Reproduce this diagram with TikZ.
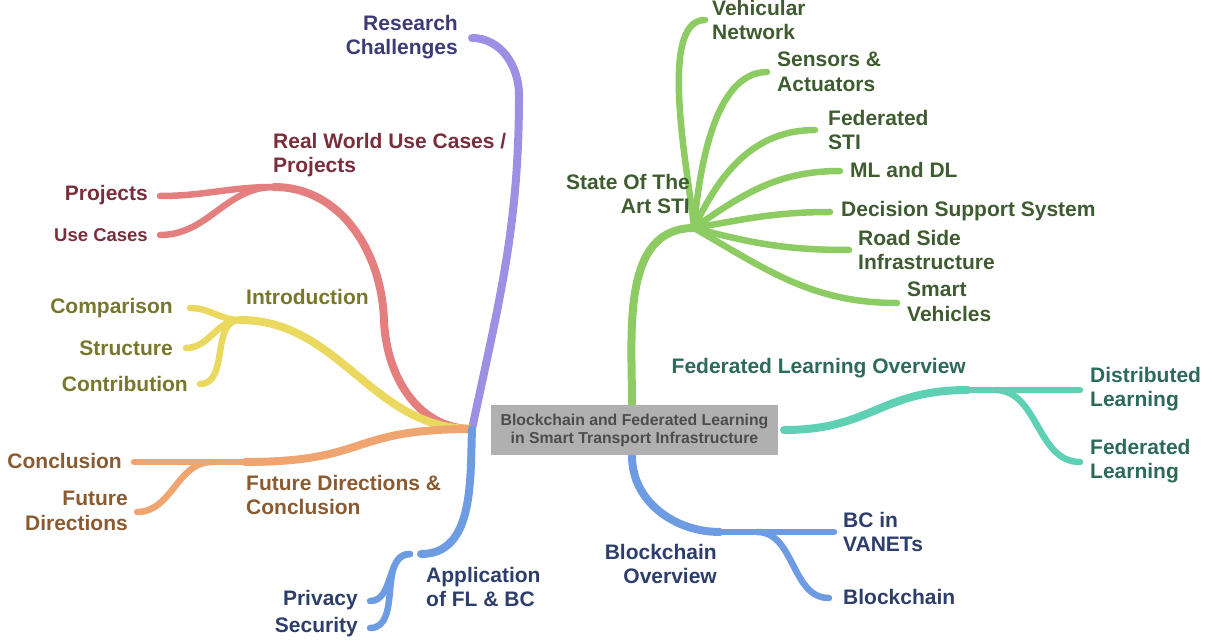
\documentclass[tikz,border=0pt]{standalone}
\usepackage{fontspec}
\setmainfont{Liberation Sans}
\usepackage{xcolor}
\usepackage{tikz}
\usetikzlibrary{positioning,calc}

\definecolor{rcLine}{HTML}{9D90E4}
\definecolor{rcText}{HTML}{3D3A78}
\definecolor{rwLine}{HTML}{E57F7F}
\definecolor{rwText}{HTML}{7A2E3C}
\definecolor{inLine}{HTML}{EAD95E}
\definecolor{inText}{HTML}{77772E}
\definecolor{fdLine}{HTML}{F0A570}
\definecolor{fdText}{HTML}{8A5A30}
\definecolor{apLine}{HTML}{6E9CE3}
\definecolor{apText}{HTML}{2D3E6C}
\definecolor{stLine}{HTML}{8DCB63}
\definecolor{stText}{HTML}{3F5C30}
\definecolor{flLine}{HTML}{5ED1B4}
\definecolor{flText}{HTML}{2E6A5A}
\definecolor{rootFill}{HTML}{B0B0B0}

\begin{document}
\begin{tikzpicture}[x=1pt, y=1pt,
    br/.style={line width=8pt, line cap=round},
    leaf/.style={line width=6.5pt, line cap=round},
    txt/.style={font=\bfseries\fontsize{21}{24.5}\selectfont, inner sep=0pt},
    lt/.style={txt, anchor=west, align=left},
    rt/.style={txt, anchor=east, align=right},
    rootbox/.style={fill=rootFill, minimum width=287pt, minimum height=50pt, inner sep=0pt,
        align=center, text=black!70, font=\bfseries\fontsize{15.8}{18}\selectfont}]
    \useasboundingbox (0,0) rectangle (1210,640);

    % Hubs round the central box
    \coordinate (hubW) at (472,211);
    \coordinate (hubN) at (632,236);
    \coordinate (hubS) at (632,184);
    \coordinate (hubE) at (784,210);

    % Research Challenges
    \coordinate (rcb) at (519,545);
    \coordinate (rc) at (472,602);
    \draw[br, rcLine] (hubW) to[out=78, in=-90] (rcb) to[out=90, in=0] (rc);
    \node[rt, text=rcText] (rcT) at (458,603) {Research\\Challenges};

    % Real World Use Cases / Projects
    \coordinate (rwa) at (384,320);
    \coordinate (rw) at (274,453);
    \coordinate (pj) at (160,444);
    \coordinate (uc) at (160,405);
    \draw[br, rwLine] (hubW) to[out=180, in=-88] (rwa) to[out=92, in=0] (rw);
    \draw[leaf, rwLine] (rw) to[out=180, in=0] (pj);
    \draw[leaf, rwLine] (rw) to[out=180, in=0] (uc);
    \node[lt, text=rwText] (rwT) at (273,485) {Real World Use Cases /\\Projects};
    \node[rt, text=rwText] (pjT) at (148,445) {Projects};
    \node[rt, text=rwText, font=\bfseries\fontsize{18.5}{22}\selectfont] (ucT) at (148,405) {Use Cases};

    % Introduction
    \coordinate (in) at (240,320);
    \coordinate (cmp) at (190,332);
    \coordinate (str) at (186,292);
    \coordinate (ctb) at (200,256);
    \draw[br, inLine] (hubW) to[out=180, in=0] (in);
    \foreach \c in {cmp, str, ctb}
        \draw[leaf, inLine] (in) to[out=180, in=0] (\c);
    \node[lt, text=inText] (inT) at (246,343) {Introduction};
    \node[rt, text=inText] (cmpT) at (173,332) {Comparison};
    \node[rt, text=inText] (strT) at (173,292) {Structure};
    \node[rt, text=inText] (ctbT) at (188,256) {Contribution};

    % Future Directions & Conclusion
    \coordinate (fd) at (245,178);
    \coordinate (fdf) at (212,178);
    \coordinate (ccl) at (134,178);
    \coordinate (fdir) at (137,128);
    \draw[br, fdLine] (hubW) to[out=180, in=0, looseness=1.4] (fd);
    \draw[leaf, fdLine] (fd) -- (ccl);
    \draw[leaf, fdLine] (fdf) to[out=180, in=0] (fdir);
    \node[lt, text=fdText] (fdT) at (246,145) {Future Directions \&\\Conclusion};
    \node[rt, text=fdText] (cclT) at (122,179) {Conclusion};
    \node[rt, text=fdText] (fdirT) at (128,129) {Future\\Directions};

    % Application of FL & BC
    \coordinate (ap) at (421,86);
    \coordinate (apf) at (410,86);
    \coordinate (prv) at (370,39);
    \coordinate (sec) at (370,12);
    \draw[br, apLine] (hubW) to[out=-92, in=0] (ap);
    \draw[leaf, apLine] (apf) to[out=180, in=0] (prv);
    \draw[leaf, apLine] (apf) to[out=180, in=0] (sec);
    \node[lt, text=apText] (apT) at (426,53) {Application\\of FL \& BC};
    \node[rt, text=apText] (prvT) at (358,40) {Privacy};
    \node[rt, text=apText] (secT) at (358,13) {Security};

    % State Of The Art STI
    \coordinate (st) at (694,412);
    \draw[br, stLine] (hubN) to[out=90, in=180] (st);
    \draw[leaf, stLine] (st) to[out=95, in=180, looseness=0.6] (705,620) coordinate (veh);
    \draw[leaf, stLine] (st) to[out=85, in=180, looseness=0.8] (767,568) coordinate (sen);
    \draw[leaf, stLine] (st) to[out=65, in=180] (815,510) coordinate (fed);
    \draw[leaf, stLine] (st) to[out=35, in=180] (840,469) coordinate (mld);
    \draw[leaf, stLine] (st) to[out=10, in=180] (830,428) coordinate (dss);
    \draw[leaf, stLine] (st) to[out=-15, in=180] (849,390) coordinate (rsi);
    \draw[leaf, stLine] (st) to[out=-30, in=180] (897,337) coordinate (smv);
    \node[rt, text=stText] (stT) at (690,446) {State Of The\\Art STI};
    \node[lt, text=stText] (vehT) at (712,620) {Vehicular\\Network};
    \node[lt, text=stText] (senT) at (777,568) {Sensors \&\\Actuators};
    \node[lt, text=stText] (fedT) at (828,510) {Federated\\STI};
    \node[lt, text=stText] (mldT) at (850,470) {ML and DL};
    \node[lt, text=stText] (dssT) at (841,429) {Decision Support System};
    \node[lt, text=stText] (rsiT) at (858,390) {Road Side\\Infrastructure};
    \node[lt, text=stText] (smvT) at (907,338) {Smart\\Vehicles};

    % Federated Learning Overview
    \coordinate (fl) at (968,250);
    \coordinate (flf) at (995,250);
    \coordinate (dl) at (1080,250);
    \coordinate (fdl) at (1080,178);
    \draw[br, flLine] (hubE) to[out=0, in=180, looseness=1.2] (fl);
    \draw[leaf, flLine] (fl) -- (dl);
    \draw[leaf, flLine] (flf) to[out=0, in=180] (fdl);
    \node[rt, text=flText] (flT) at (966,272) {Federated Learning Overview};
    \node[lt, text=flText] (dlT) at (1090,251) {Distributed\\Learning};
    \node[lt, text=flText] (fdlT) at (1090,179) {Federated\\Learning};

    % Blockchain Overview
    \coordinate (bc) at (720,108);
    \coordinate (bcf) at (757,108);
    \coordinate (bcv) at (834,108);
    \coordinate (bch) at (829,42);
    \draw[br, apLine] (hubS) to[out=-90, in=180] (bc);
    \draw[leaf, apLine] (bc) -- (bcv);
    \draw[leaf, apLine] (bcf) to[out=0, in=180] (bch);
    \node[rt, text=apText] (bcT) at (717,76) {Blockchain\\Overview};
    \node[lt, text=apText] (bcvT) at (843,108) {BC in\\VANETs};
    \node[lt, text=apText] (bchT) at (843,43) {Blockchain};

    % Root
    \node[rootbox] (root) at (634.5,210) {Blockchain and Federated Learning\\in Smart Transport Infrastructure};
\end{tikzpicture}
\end{document}
